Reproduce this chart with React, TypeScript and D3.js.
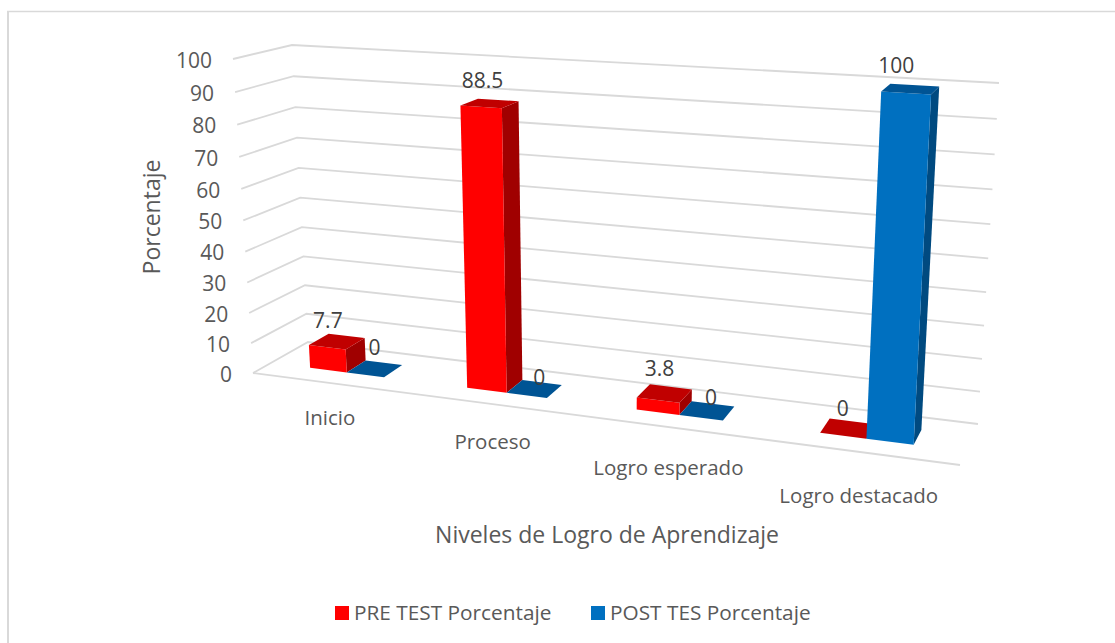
import React from "react";
import * as d3 from "d3";

const categories = ["Inicio", "Proceso", "Logro esperado", "Logro destacado"];
const seriesNames = ["PRE TEST Porcentaje", "POST TES Porcentaje"];
const preTest = [7.7, 88.5, 3.8, 0];
const postTest = [0, 0, 0, 100];
const valueTicks = [0, 10, 20, 30, 40, 50, 60, 70, 80, 90, 100];

const W = 1115, H = 643;
const FONT = "'Open Sans', 'Noto Sans', sans-serif";
const TXT = "#595959";
const GRID = "#d9d9d9";
const COLORS = [
  { front: "#ff0000", top: "#c00000", side: "#a00000" },
  { front: "#0070c0", top: "#005494", side: "#004a80" },
];

// Projected box corners of the 3D plot area: [u, depth]
const floor = { fl: [253, 373], fr: [960, 465], bl: [308, 342], br: [978, 424] };
const roof = { fl: [233, 59], fr: [980, 105], bl: [292, 45], br: [999, 83] };

const K = 1.17;
const warp = (u: number) => u / (u + K * (1 - u));
const C = -0.055;
const valueScale = d3.scaleLinear().domain([0, 100]).range([0, 1]);
const vt = (v: number) => {
  const s = valueScale(v);
  return (s * (1 + C)) / (1 + C * s);
};
const bil = (q: typeof floor, u: number, w: number): [number, number] => {
  const a = warp(u);
  const f = d3.interpolateNumberArray(q.fl, q.fr)(a);
  const b = d3.interpolateNumberArray(q.bl, q.br)(a);
  const p = d3.interpolateNumberArray(f, b)(w);
  return [p[0], p[1]];
};
const project = (u: number, w: number, v: number): [number, number] => {
  const p0 = bil(floor, u, w);
  const p1 = bil(roof, u, w);
  const t = vt(v);
  return [p0[0] + (p1[0] - p0[0]) * t, p0[1] + (p1[1] - p0[1]) * t];
};

const band = d3.scaleBand<string>().domain(categories).range([0, 1]).paddingInner(0.52).paddingOuter(0.26);
const inner = d3.scaleBand<string>().domain(seriesNames).range([0, band.bandwidth()]);
const W0 = 0.33, W1 = 0.7;
const line = d3.line<[number, number]>().curve(d3.curveLinear);
const poly = (pts: [number, number][]) => line(pts) + "Z";

const labelNudge = [
  [[-9, -21], [0, -21]],
  [[-7, -23], [5, -12]],
  [[-5, -25], [4, -13]],
  [[-5, -20], [-14, -24]],
];

function Bar({ cat, si, value }: { cat: string; si: number; value: number }) {
  const u0 = band(cat)! + inner(seriesNames[si])!;
  const u1 = u0 + inner.bandwidth();
  const c = COLORS[si];
  return (
    <g>
      {value > 0 && (
        <path
          d={poly([project(u1, W0, 0), project(u1, W1, 0), project(u1, W1, value), project(u1, W0, value)])}
          fill={c.side}
        />
      )}
      {value > 0 && (
        <path
          d={poly([project(u0, W0, 0), project(u1, W0, 0), project(u1, W0, value), project(u0, W0, value)])}
          fill={c.front}
        />
      )}
      <path
        d={poly([project(u0, W0, value), project(u1, W0, value), project(u1, W1, value), project(u0, W1, value)])}
        fill={c.top}
      />
    </g>
  );
}

export default function App() {
  const series = [preTest, postTest];
  return (
    <svg
      width={W}
      height={H}
      viewBox={`0 0 ${W} ${H}`}
      style={{ position: "absolute", left: 0, top: 0, background: "#fff", display: "block" }}
    >
      <path d="M8 643V11.5" fill="none" stroke={GRID} strokeWidth={2} />
      <path d="M7 11.5H1115" fill="none" stroke={GRID} strokeWidth={1.5} />
      {valueTicks.map((t) => (
        <path
          key={t}
          d={line([project(0, 0, t), project(0, 1, t), project(1, 1, t)])!}
          fill="none"
          stroke={GRID}
          strokeWidth={1.8}
        />
      ))}
      <path d={line([project(0, 0, 0), project(1, 0, 0)])!} fill="none" stroke={GRID} strokeWidth={1.8} />
      {valueTicks.map((t) => {
        const p = project(0, 0, t);
        return (
          <text key={t} x={p[0] - 21} y={p[1] + 1.2} dy="0.36em" textAnchor="end" fontFamily={FONT} fontSize={21} fill={TXT}>
            {t}
          </text>
        );
      })}
      {categories.map((c, i) => (
        <g key={c}>
          {series.map((s, si) => (
            <Bar key={si} cat={c} si={si} value={s[i]} />
          ))}
        </g>
      ))}
      {categories.map((c) => {
        const uc = band(c)! + band.bandwidth() / 2;
        const p = project(uc, 0, 0);
        return (
          <text key={c} x={p[0]} y={p[1] + 33 + 13 * warp(uc)} dy="0.36em" textAnchor="middle" fontFamily={FONT} fontSize={20.5} fill={TXT}>
            {c}
          </text>
        );
      })}
      {categories.map((c, i) =>
        series.map((s, si) => {
          const u = band(c)! + inner(seriesNames[si])! + inner.bandwidth() / 2;
          const p = project(u, (W0 + W1) / 2, s[i]);
          const n = labelNudge[i][si];
          return (
            <text key={c + si} x={p[0] + n[0]} y={p[1] + n[1]} dy="0.36em" textAnchor="middle" fontFamily={FONT} fontSize={21} fill="#404040">
              {s[i]}
            </text>
          );
        })
      )}
      <text transform="translate(152,217) rotate(-90)" dy="0.36em" textAnchor="middle" fontFamily={FONT} fontSize={23} fill={TXT}>
        Porcentaje
      </text>
      <text x={607} y={535} dy="0.36em" textAnchor="middle" fontFamily={FONT} fontSize={23} fill={TXT}>
        Niveles de Logro de Aprendizaje
      </text>
      {seriesNames.map((n, i) => {
        const x = [335, 591][i];
        return (
          <g key={n}>
            <rect x={x} y={606} width={14} height={14} fill={COLORS[i].front} />
            <text x={x + 19} y={613} dy="0.36em" fontFamily={FONT} fontSize={20.8} fill={TXT}>
              {n}
            </text>
          </g>
        );
      })}
    </svg>
  );
}
